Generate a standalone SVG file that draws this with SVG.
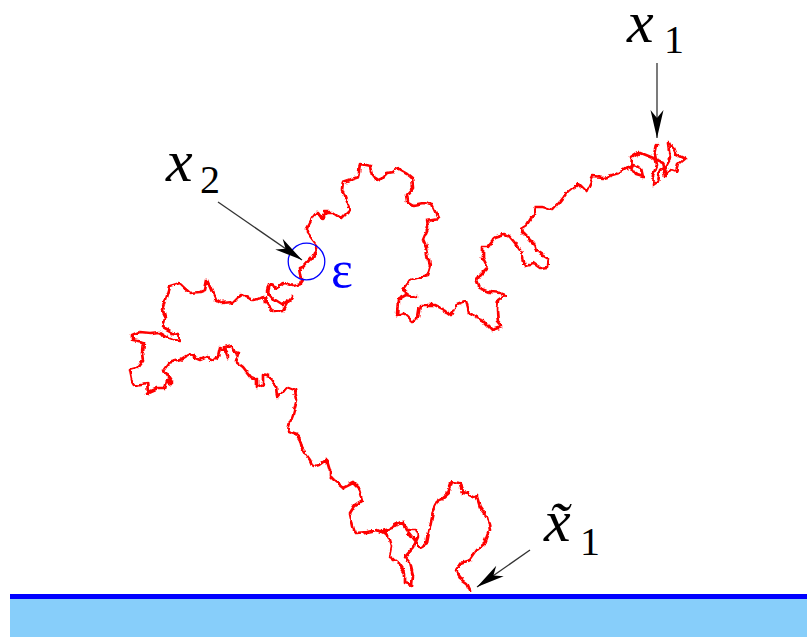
<svg xmlns="http://www.w3.org/2000/svg" width="807" height="637" viewBox="0 0 807 637">
<style>
.lbl{font-family:"Liberation Serif",serif;fill:#000}
.it{font-style:italic}
.arrow{stroke:#333;stroke-width:1.3;fill:none;marker-end:url(#ah)}
.path{fill:none;stroke:#ff0000;stroke-width:2.7;stroke-linejoin:round;stroke-linecap:round}
</style>
<defs>
<marker id="ah" markerUnits="userSpaceOnUse" viewBox="-30 -8 32 16" markerWidth="32" markerHeight="16" refX="0" refY="0" orient="auto">
<path d="M0,0 L-28,-6.5 L-20,0 L-28,6.5 Z" fill="#000"/>
</marker>
<filter id="rough" x="-5%" y="-5%" width="110%" height="110%">
<feTurbulence type="fractalNoise" baseFrequency="0.1" numOctaves="2" seed="3" result="n"/>
<feDisplacementMap in="SourceGraphic" in2="n" scale="6" xChannelSelector="R" yChannelSelector="G" result="d1"/>
<feTurbulence type="fractalNoise" baseFrequency="0.3" numOctaves="1" seed="8" result="n2"/>
<feDisplacementMap in="d1" in2="n2" scale="2.5" xChannelSelector="R" yChannelSelector="G"/>
</filter>
</defs>
<g id="boundary">
<rect x="10" y="597" width="797" height="40" fill="#87cefa"/>
<rect x="10" y="594" width="797" height="5" fill="#0000ff"/>
</g>
<g id="brownian-path">
<polyline class="path" filter="url(#rough)" points="657,145 655,155 657,165 653,175 652,186 658,182 660,170 665,167 670,158 668,144 674,147 677,155 685,159 679,164 677,172 671,170 666,176 662,162 650,157 640,153 632,158 631,168 636,175 643,177 641,168 633,165 620,173 603,178 593,177 586,192 578,184 567,193 560,202 553,210 543,207 535,207 533,215 527,225 522,228 523,233 533,243 535,250 543,255 548,258 547,267 540,268 533,263 525,265 522,253 515,243 510,237 505,235 495,238 488,247 482,247 482,258 487,268 480,275 477,280 480,288 490,292 500,293 505,295 498,300 497,310 498,322 502,327 493,330 483,320 477,318 468,313 465,302 457,305 452,315 445,310 435,305 420,305 418,317 413,322 403,313 397,315 398,300 407,295 417,297 410,295 403,290 410,280 420,277 427,275 430,265 427,250 423,240 428,228 427,220 438,218 432,205 423,203 413,205 408,202 407,195 413,188 412,177 407,173 398,168 393,172 387,173 380,180 372,175 370,167 360,165 358,177 343,182 342,190 347,203 350,210 342,218 333,212 323,212 323,220 317,212 313,217 307,228 307,232 313,240 317,245 312,257 303,267 300,268 302,280 300,283 293,285 283,282 277,287 270,284 268,292 275,300 283,305 290,300 292,297 284,311 273,312 266,303 265,297 253,300 240,295 233,302 222,303 215,299 212,292 207,280 205,290 200,292 190,293 180,284 170,287 167,297 163,310 165,318 163,327 172,332 178,333 180,342 170,338 160,332 150,333 140,332 133,335 133,340 143,342 142,352 143,360 137,368 130,370 132,380 135,385 147,383 148,392 157,388 165,388 167,380 172,383 168,377 163,370 168,363 180,360 188,355 200,360 207,357 213,360 218,357 220,348 225,350 228,357 225,347 232,345 235,352 238,353 235,362 243,368 250,377 257,380 257,388 263,383 263,375 270,377 277,387 278,398 283,392 287,387 295,390 297,400 293,415 290,423 288,432 297,435 300,440 302,448 305,453 310,460 313,467 320,465 327,460 330,470 330,477 333,480 343,488 353,483 360,490 363,500 355,505 350,513 353,527 355,533 367,532 377,530 383,533 393,527 402,522 407,530 415,530 418,537 413,548 405,557 410,563 413,575 412,585 405,583 405,573 398,563 390,557 392,547 390,540 381,531 393,528 403,522 407,530 420,547 427,543 430,527 433,513 440,500 448,493 452,482 460,483 462,492 468,493 477,497 480,507 487,517 490,530 485,543 477,550 470,560 460,563 455,570 460,578 467,583 470,590"/>
</g>
<g id="eps-ball">
<circle cx="306.5" cy="261.5" r="18.3" fill="none" stroke="#0000ff" stroke-width="1.3"/>
<text class="lbl" x="331" y="287" font-size="52" style="fill:#0000ff">ε</text>
</g>
<g id="connectors">
<line class="arrow" x1="657" y1="63" x2="657" y2="138"/>
<line class="arrow" x1="218" y1="202" x2="302" y2="260"/>
<line class="arrow" x1="530" y1="550" x2="477" y2="587"/>
</g>
<g id="label-x1">
<text class="lbl it" x="627" y="42" font-size="60">x</text>
<text class="lbl" x="664" y="53" font-size="40">1</text>
</g>
<g id="label-x2">
<text class="lbl it" x="166" y="181" font-size="60">x</text>
<text class="lbl" x="200" y="193" font-size="40">2</text>
</g>
<g id="label-x1tilde">
<text class="lbl it" x="544" y="541" font-size="60">x̃</text>
<text class="lbl" x="580" y="555" font-size="40">1</text>
</g>
</svg>
